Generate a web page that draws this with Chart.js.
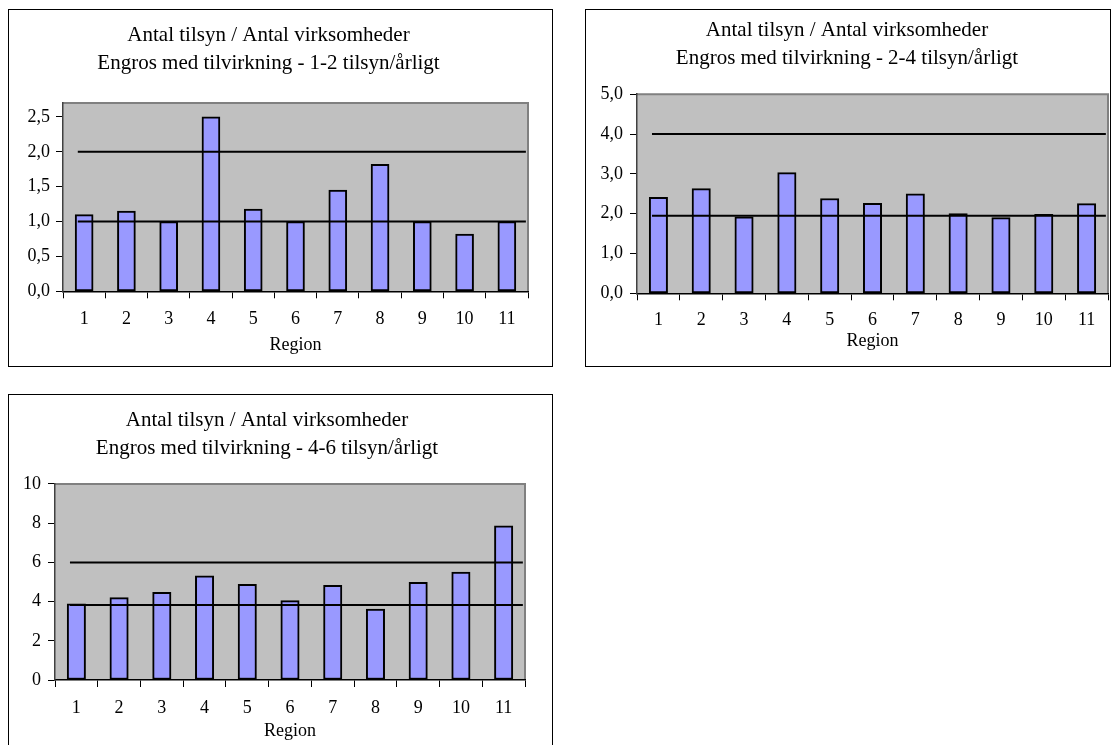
<!DOCTYPE html>
<html>
<head>
<meta charset="utf-8">
<script src="https://cdn.jsdelivr.net/npm/chart.js@4.4.1/dist/chart.umd.min.js"></script>
<style>
  html, body { margin: 0; padding: 0; background: #fff; overflow: hidden; }
  body { width: 1115px; height: 745px; position: relative; }
  .box { position: absolute; border: 1px solid #000; box-sizing: border-box; background: #fff; }
  .box canvas { display: block; }
</style>
</head>
<body>
<div class="box" style="left:8px;top:9px;width:545px;height:358px"><canvas id="c12" width="543" height="356"></canvas></div>
<div class="box" style="left:585px;top:9px;width:526px;height:358px"><canvas id="c24" width="524" height="356"></canvas></div>
<div class="box" style="left:8px;top:394px;width:545px;height:362px"><canvas id="c46" width="543" height="360"></canvas></div>
<script>
// Regions on the category axis
const regions = ['1', '2', '3', '4', '5', '6', '7', '8', '9', '10', '11'];

// Inspections per company, by region
const ratio12 = [1.10, 1.15, 1.00, 2.50, 1.18, 1.00, 1.45, 1.82, 1.00, 0.82, 1.00];
const ratio24 = [2.41, 2.63, 1.92, 3.03, 2.38, 2.26, 2.50, 2.00, 1.90, 1.98, 2.25];
const ratio46 = [3.89, 4.20, 4.47, 5.31, 4.88, 4.05, 4.83, 3.62, 4.98, 5.51, 7.86];

// Lower / upper target lines for each group
const limits12 = [1.00, 2.00];
const limits24 = [1.95, 4.00];
const limits46 = [3.83, 6.00];
// Horizontal extent of the target lines, in region units
const limitSpan = [0.85, 11.45];

// Value-axis ticks
const yTicks12 = [0, 0.5, 1, 1.5, 2, 2.5];
const yTicks24 = [0, 1, 2, 3, 4, 5];
const yTicks46 = [0, 2, 4, 6, 8, 10];
const yMax = [2.7, 5, 10];

const titleMain = 'Antal tilsyn / Antal virksomheder';
const subtitles = [
  'Engros med tilvirkning - 1-2 tilsyn/årligt',
  'Engros med tilvirkning - 2-4 tilsyn/årligt',
  'Engros med tilvirkning - 4-6 tilsyn/årligt'
];
const xTitle = 'Region';

Chart.defaults.font.family = "'Liberation Serif', 'Times New Roman', serif";
Chart.defaults.color = '#000';

// Grey plot area with a darker frame on top and right
const plotFrame = {
  id: 'plotFrame',
  beforeDraw(chart) {
    const { ctx, chartArea: a } = chart;
    ctx.save();
    ctx.fillStyle = '#C0C0C0';
    ctx.fillRect(a.left, a.top, a.right - a.left, a.bottom - a.top);
    ctx.strokeStyle = '#808080';
    ctx.lineWidth = 2;
    ctx.beginPath();
    ctx.moveTo(a.left, a.top);
    ctx.lineTo(a.right, a.top);
    ctx.lineTo(a.right, a.bottom);
    ctx.stroke();
    ctx.restore();
  }
};

function drawRatioChart(id, values, limits, ticks, max, decimals, subtitle, lay) {
  const tickFont = { size: 18 };
  const limitSets = limits.map(v => ({
    type: 'line',
    xAxisID: 'xl',
    data: limitSpan.map(x => ({ x: x, y: v })),
    borderColor: '#000',
    borderWidth: 2,
    pointRadius: 0,
    fill: false,
    order: 1
  }));
  return new Chart(document.getElementById(id), {
    data: {
      labels: regions,
      datasets: [
        ...limitSets,
        {
          type: 'bar',
          xAxisID: 'x',
          data: values,
          backgroundColor: '#9999FF',
          borderColor: '#000',
          borderWidth: 2,
          borderSkipped: false,
          grouped: false,
          barThickness: lay.bar,
          order: 2
        }
      ]
    },
    options: {
      responsive: false,
      animation: false,
      devicePixelRatio: 1,
      layout: { padding: { left: 0, right: lay.right, top: 0, bottom: 0 } },
      plugins: {
        legend: { display: false },
        tooltip: { enabled: false },
        title: {
          display: true,
          text: [titleMain, subtitle],
          color: '#000',
          font: { size: 21, weight: 'normal', lineHeight: lay.titleLine },
          padding: { top: lay.titleTop, bottom: lay.titleBottom }
        }
      },
      scales: {
        x: {
          type: 'category',
          offset: true,
          grid: { offset: true, drawOnChartArea: false, drawTicks: true, tickLength: 7, color: '#000', lineWidth: 1 },
          border: { display: true, color: '#000', width: 1.5 },
          ticks: { color: '#000', font: tickFont, padding: lay.xPad, maxRotation: 0, autoSkip: false },
          title: { display: true, text: xTitle, color: '#000', font: { size: 18 }, padding: { top: 0, bottom: lay.titlePad } },
          afterFit(s) { s.height = lay.xHeight; }
        },
        xl: { type: 'linear', min: 0.5, max: 11.5, display: false },
        y: {
          type: 'linear',
          min: 0,
          max: max,
          grid: { drawOnChartArea: false, drawTicks: true, tickLength: 7, color: '#000', lineWidth: 1 },
          border: { display: true, color: '#404040', width: 1.5 },
          ticks: {
            color: '#000',
            font: tickFont,
            padding: lay.yPad,
            callback: v => Number(v).toFixed(decimals).replace('.', ',')
          },
          afterBuildTicks(s) { s.ticks = ticks.map(v => ({ value: v })); },
          afterFit(s) { s.width = lay.yWidth; }
        }
      }
    },
    plugins: [plotFrame]
  });
}

drawRatioChart('c12', ratio12, limits12, yTicks12, yMax[0], 1, subtitles[0],
  { right: 24, titleTop: 11, titleBottom: 26, titleLine: 1.333, xPad: 10.2, titlePad: 10.2, xHeight: 74.7, yPad: 6, yWidth: 54, bar: 18 });
drawRatioChart('c24', ratio24, limits24, yTicks24, yMax[1], 1, subtitles[1],
  { right: 2, titleTop: 7, titleBottom: 22, titleLine: 1.314, xPad: 9.6, titlePad: 13.5, xHeight: 72.7, yPad: 7, yWidth: 51, bar: 18.4 });
drawRatioChart('c46', ratio46, limits46, yTicks46, yMax[2], 0, subtitles[2],
  { right: 27, titleTop: 11, titleBottom: 22, titleLine: 1.333, xPad: 10.5, titlePad: 12.5, xHeight: 75, yPad: 7, yWidth: 46, bar: 18.4 });
</script>
</body>
</html>
